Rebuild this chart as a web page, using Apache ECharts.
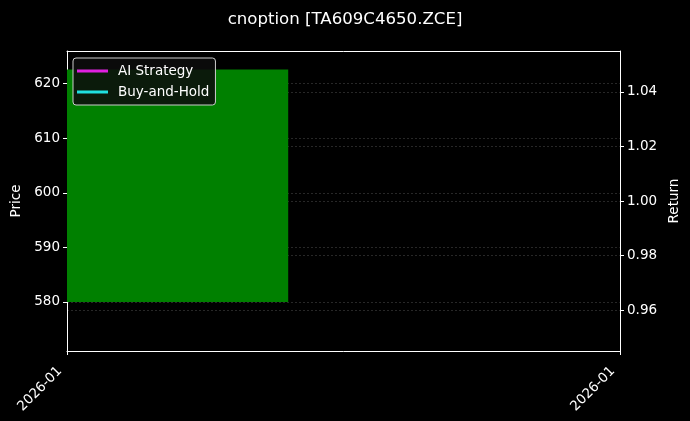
<!DOCTYPE html>
<html>
<head>
<meta charset="utf-8">
<script src="https://cdn.jsdelivr.net/npm/echarts@6/dist/echarts.min.js"></script>
<style>
html,body{margin:0;padding:0;background:#000;}
#chart{width:690px;height:421px;}
</style>
</head>
<body>
<div id="chart"></div>
<script>
// ---- data ----
var title = 'cnoption [TA609C4650.ZCE]';
var candleX = [0];          // date position (index)
var candleOpen = [580.0];
var candleClose = [622.6];
var aiStrategy = [[0, 1.0]];
var buyHold = [[0, 1.0]];
var xTickLabels = ['2026-01', '2026-01'];
var priceRange = [571, 626];
var returnRange = [0.945, 1.055];

var candleData = candleX.map(function (x, i) { return [x, candleOpen[i], candleClose[i]]; });

var font = 'DejaVu Sans';
var txt = '#ffffff';
var gridCol = '#383838';
var fs = 13.5;

var chart = echarts.init(document.getElementById('chart'), null, {renderer: 'canvas'});
chart.setOption({
  backgroundColor: '#000000',
  animation: false,
  title: {
    text: title, left: 'center', top: 6,
    textStyle: {color: txt, fontFamily: font, fontSize: 16.6, fontWeight: 'normal'}
  },
  grid: {left: 67, right: 70, top: 51, bottom: 70, show: false},
  legend: {
    left: 73, top: 58, orient: 'vertical',
    backgroundColor: 'rgba(12,12,12,0.88)', borderColor: '#cccccc', borderWidth: 1, borderRadius: 3,
    padding: [6, 6, 6, 4], itemGap: 7, itemWidth: 31, itemHeight: 3, icon: 'rect',
    textStyle: {color: txt, fontFamily: font, fontSize: fs, padding: [0, 0, 0, 5]},
    data: ['AI Strategy', 'Buy-and-Hold']
  },
  xAxis: [{
    type: 'value', min: 0, max: 1, interval: 1, position: 'bottom',
    axisLine: {show: true, onZero: false, lineStyle: {color: '#ffffff'}},
    axisTick: {show: true, length: 4, lineStyle: {color: '#ffffff'}},
    splitLine: {show: false},
    axisLabel: {
      color: txt, fontFamily: font, fontSize: fs, rotate: 45, margin: 11, padding: [0, 10, 0, 0],
      formatter: function (v) { return xTickLabels[Math.round(v)]; }
    }
  }, {
    type: 'value', min: 0, max: 1, interval: 1, position: 'top',
    axisLine: {show: true, onZero: false, lineStyle: {color: '#ffffff'}},
    axisTick: {show: false}, axisLabel: {show: false}, splitLine: {show: false}
  }],
  yAxis: [{
    type: 'value', min: priceRange[0], max: priceRange[1], splitNumber: 5, position: 'left',
    name: 'Price', nameLocation: 'middle', nameGap: 44, nameRotate: 90,
    nameTextStyle: {color: txt, fontFamily: font, fontSize: fs},
    axisLine: {show: true, onZero: false, lineStyle: {color: '#ffffff'}},
    axisTick: {show: true, length: 4, lineStyle: {color: '#ffffff'}},
    axisLabel: {color: txt, fontFamily: font, fontSize: fs, margin: 7, showMinLabel: false, showMaxLabel: false},
    splitLine: {show: true, lineStyle: {color: gridCol, type: [2, 2], width: 0.7}}
  }, {
    type: 'value', min: returnRange[0], max: returnRange[1], splitNumber: 5, position: 'right',
    name: 'Return', nameLocation: 'middle', nameGap: 47, nameRotate: 90,
    nameTextStyle: {color: txt, fontFamily: font, fontSize: fs},
    axisLine: {show: true, onZero: false, lineStyle: {color: '#ffffff'}},
    axisTick: {show: true, length: 4, lineStyle: {color: '#ffffff'}},
    axisLabel: {color: txt, fontFamily: font, fontSize: fs, margin: 7, showMinLabel: false, showMaxLabel: false,
      formatter: function (v) { return v.toFixed(2); }},
    splitLine: {show: true, lineStyle: {color: gridCol, type: [2, 2], width: 0.7}}
  }],
  series: [{
    type: 'custom', name: 'Candle', yAxisIndex: 0, clip: true,
    data: candleData,
    renderItem: function (params, api) {
      var x = api.value(0), o = api.value(1), c = api.value(2);
      var p0 = api.coord([x - 0.4, Math.max(o, c)]);
      var p1 = api.coord([x + 0.4, Math.min(o, c)]);
      var rect = echarts.graphic.clipRectByRect(
        {x: p0[0], y: p0[1], width: p1[0] - p0[0], height: p1[1] - p0[1]},
        {x: params.coordSys.x, y: params.coordSys.y, width: params.coordSys.width, height: params.coordSys.height});
      if (!rect) return null;
      return {type: 'rect', shape: rect, style: {fill: c >= o ? '#008000' : '#d00000'}};
    }
  }, {
    type: 'line', name: 'AI Strategy', yAxisIndex: 1, data: aiStrategy, showSymbol: false,
    lineStyle: {color: '#e020e0', width: 2}, itemStyle: {color: '#e020e0'}
  }, {
    type: 'line', name: 'Buy-and-Hold', yAxisIndex: 1, data: buyHold, showSymbol: false,
    lineStyle: {color: '#20e0e0', width: 2}, itemStyle: {color: '#20e0e0'}
  }]
});
</script>
</body>
</html>
